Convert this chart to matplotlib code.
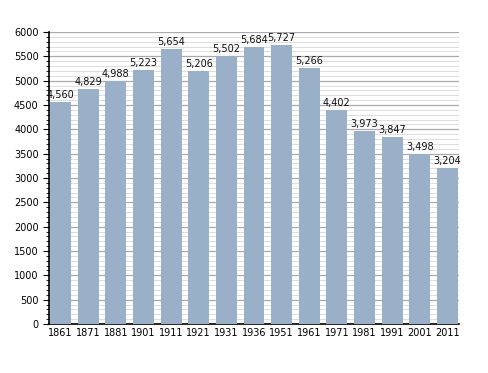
import matplotlib.pyplot as plt
import numpy as np
from matplotlib.ticker import MultipleLocator

years = ['1861', '1871', '1881', '1901', '1911', '1921', '1931', '1936',
         '1951', '1961', '1971', '1981', '1991', '2001', '2011']
population = [4560, 4829, 4988, 5223, 5654, 5206, 5502, 5684,
              5727, 5266, 4402, 3973, 3847, 3498, 3204]

fig = plt.figure(figsize=(4.88, 3.73), dpi=100)
ax = fig.add_axes([49 / 488, 49 / 373, 410 / 488, 292 / 373])

x = np.arange(len(years))
bars = ax.bar(x, population, width=0.76, color='#9ab0c9', zorder=3)

for xi, v in zip(x, population):
    ax.text(xi, v + 40, f'{v:,}', ha='center', va='bottom', fontsize=7,
            color='#111111', zorder=4)

ax.set_xlim(-0.42, len(years) - 0.58)
ax.set_ylim(0, 6000)
ax.set_xticks(x)
ax.set_xticklabels(years, fontsize=7)
ax.yaxis.set_major_locator(MultipleLocator(500))
ax.yaxis.set_minor_locator(MultipleLocator(100))
ax.tick_params(axis='y', labelsize=7, length=4, direction='out')
ax.tick_params(axis='y', which='minor', length=2)
ax.tick_params(axis='x', length=0, pad=3)

ax.grid(axis='y', which='major', color='#aaaaaa', linewidth=0.9, zorder=0)
ax.grid(axis='y', which='minor', color='#dddddd', linewidth=0.7, zorder=0)

for s in ['top', 'right']:
    ax.spines[s].set_visible(False)
ax.spines['left'].set_linewidth(1.2)
ax.spines['bottom'].set_linewidth(1.2)

fig.savefig('out.png', dpi=100)
